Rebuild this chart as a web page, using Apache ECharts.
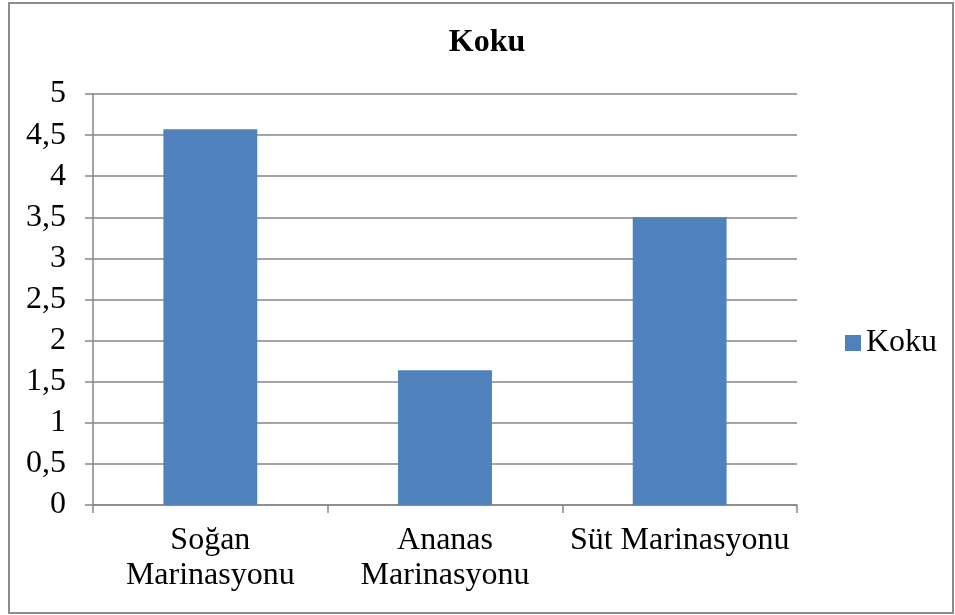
<!DOCTYPE html>
<html>
<head>
<meta charset="utf-8">
<script src="https://cdn.jsdelivr.net/npm/echarts@6/dist/echarts.min.js"></script>
<style>
    html, body { margin: 0; padding: 0; background: #fff; }
    #main { width: 955px; height: 615px; }
</style>
</head>
<body>
<div id="main"></div>
<script>
// 数据
var categories = ["Soğan\nMarinasyonu", "Ananas\nMarinasyonu", "Süt Marinasyonu"];
var kokuValues = [4.57, 1.64, 3.5];
var seriesName = "Koku";

(function () {
    var myChart = echarts.init(document.getElementById('main'));
    var fontFam = "'Liberation Serif', 'Times New Roman', serif";
    var gray = "#868686";
    var option = {
        backgroundColor: "#fff",
        textStyle: { fontFamily: fontFam },
        title: {
            text: "Koku",
            left: 482,
            top: 22,
            textAlign: "center",
            textStyle: { fontFamily: fontFam, fontSize: 32, fontWeight: "bold", color: "#000" }
        },
        // 外框
        graphic: [{
            type: "rect",
            shape: { x: 9, y: 3, width: 944, height: 610 },
            style: { fill: "none", stroke: "#8c8c8c", lineWidth: 2 },
            silent: true
        }],
        legend: {
            data: [seriesName],
            left: 840,
            top: 322,
            icon: "rect",
            itemWidth: 16,
            itemHeight: 16,
            textStyle: { fontFamily: fontFam, fontSize: 32, color: "#000", padding: [0, 0, 0, 0] }
        },
        grid: {
            left: 93,
            right: 158,
            top: 94,
            bottom: 110,
            containLabel: false
        },
        xAxis: {
            type: "category",
            data: categories,
            axisLine: { lineStyle: { color: gray, width: 1.5 } },
            axisTick: { show: true, length: 8, lineStyle: { color: gray, width: 1.5 } },
            axisLabel: {
                color: "#000",
                fontFamily: fontFam,
                fontSize: 32,
                lineHeight: 35,
                margin: 18,
                interval: 0
            }
        },
        yAxis: {
            type: "value",
            min: 0,
            max: 5,
            interval: 0.5,
            axisLine: { show: true, lineStyle: { color: gray, width: 1.5 } },
            axisTick: { show: true, length: 8, lineStyle: { color: gray, width: 1.5 } },
            splitLine: { lineStyle: { color: gray, width: 1.5 } },
            axisLabel: {
                color: "#000",
                fontFamily: fontFam,
                fontSize: 32,
                margin: 27,
                formatter: function (v) { return String(v).replace(".", ","); }
            }
        },
        series: [{
            name: seriesName,
            type: "bar",
            data: kokuValues,
            barWidth: "40%",
            itemStyle: { color: "#4F81BD" }
        }]
    };
    myChart.setOption(option);
    window.addEventListener("resize", function () {
        myChart.resize();
    });
})();
</script>
</body>
</html>
